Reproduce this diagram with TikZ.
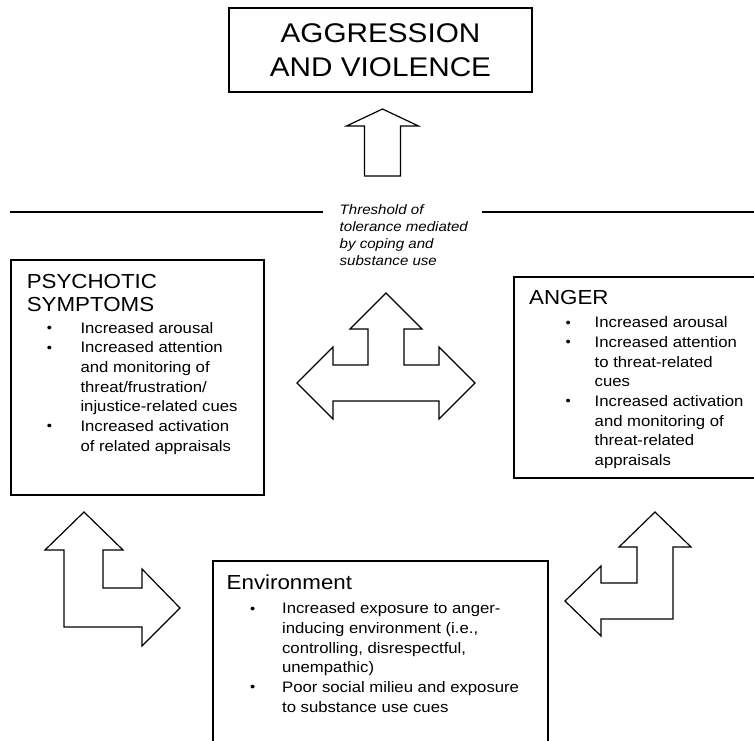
\documentclass[tikz,border=0pt]{standalone}
\usepackage{fontspec}
\setmainfont{Liberation Sans}[FakeStretch=1.1]
\usetikzlibrary{positioning}
\tikzstyle{box} = [rectangle, draw=black, line width=1.3pt, inner sep=0pt]
\tikzstyle{heading} = [anchor=north west, inner sep=0pt, align=left, font=\fontsize{20.3}{22.4}\selectfont]
\tikzstyle{points} = [anchor=north west, inner sep=0pt, align=left, font=\fontsize{15.2}{19.7}\selectfont]
\tikzstyle{note} = [anchor=north west, inner sep=0pt, align=left, font=\fontsize{13.7}{17}\selectfont\itshape]
\tikzstyle{blockarrow} = [draw=black, line width=1.2pt, line join=miter, fill=white]
\newcommand{\dotmark}{\raisebox{0.6pt}{\fontsize{13.5}{13.5}\selectfont\textbullet}}
\newcommand{\bul}[2]{\makebox[#2][l]{\hspace*{#1}\dotmark}}
\newcommand{\psybul}{\bul{20pt}{53.7pt}}
\newcommand{\psygap}{\hspace*{53.7pt}}
\newcommand{\angbul}{\bul{36.5pt}{65.5pt}}
\newcommand{\anggap}{\hspace*{65.5pt}}
\newcommand{\envbul}{\bul{23.5pt}{55.4pt}}
\newcommand{\envgap}{\hspace*{55.4pt}}
\begin{document}
\begin{tikzpicture}[x=1pt, y=-1pt]
    \useasboundingbox (0,0) rectangle (754,740);
    % Boxes
    \node (aggr) [box, minimum width=303pt, minimum height=84pt, align=center,
        font=\fontsize{27}{34}\selectfont] at (380.5,50) {AGGRESSION\\AND VIOLENCE};
    \node (psy) [box, minimum width=253pt, minimum height=235pt] at (137.5,377.5) {};
    \node (anger) [box, minimum width=244pt, minimum height=201pt] at (636,377.5) {};
    \node (env) [box, minimum width=335pt, minimum height=199pt] at (380.5,660.5) {};

    % Texts
    \node (psyhead) [heading] at (26.6,274.5) {PSYCHOTIC\\SYMPTOMS};
    \node (psylist) [points] at (26.6,321.8) {\psybul Increased arousal\\
        \psybul Increased attention\\
        \psygap and monitoring of\\
        \psygap threat/frustration/\\
        \psygap injustice-related cues\\
        \psybul Increased activation\\
        \psygap of related appraisals};
    \node (anghead) [heading] at (529,290.2) {ANGER};
    \node (anglist) [points] at (529,316.4) {\angbul Increased arousal\\
        \angbul Increased attention\\
        \anggap to threat-related\\
        \anggap cues\\
        \angbul Increased activation\\
        \anggap and monitoring of\\
        \anggap threat-related\\
        \anggap appraisals};
    \node (envhead) [heading] at (226.5,574.8) {Environment};
    \node (envlist) [points] at (226.5,602.4) {\envbul Increased exposure to anger-\\
        \envgap inducing environment (i.e.,\\
        \envgap controlling, disrespectful,\\
        \envgap unempathic)\\
        \envbul Poor social milieu and exposure\\
        \envgap to substance use cues};
    \node (thr) [note] at (339.5,204.3) {Threshold of\\tolerance mediated\\by coping and\\substance use};

    % Threshold line
    \draw [line width=1.3pt] (10,212) -- (323,212);
    \draw [line width=1.3pt] (482,212) -- (756,212);

    % Arrows
    \draw [blockarrow] (382.5,109) -- (418.5,126) -- (400.5,126) -- (400.5,176)
        -- (364.5,176) -- (364.5,126) -- (346.5,126) -- cycle;
    \draw [blockarrow] (386,293) -- (422,329) -- (404,329) -- (404,365) -- (439,365)
        -- (439,347) -- (475,383) -- (439,419) -- (439,401) -- (333,401) -- (333,419)
        -- (297,383) -- (333,347) -- (333,365) -- (368,365) -- (368,329) -- (350,329) -- cycle;
    \draw [blockarrow] (84,512) -- (123,550) -- (103,550) -- (103,588) -- (142,588)
        -- (142,569) -- (180,608) -- (142,646) -- (142,627) -- (64,627) -- (64,550)
        -- (45,550) -- cycle;
    \draw [blockarrow] (655,512) -- (691,547) -- (673,547) -- (673,619) -- (601,619)
        -- (601,636) -- (565,601) -- (601,566) -- (601,583) -- (637,583) -- (637,547)
        -- (619,547) -- cycle;
\end{tikzpicture}
\end{document}
